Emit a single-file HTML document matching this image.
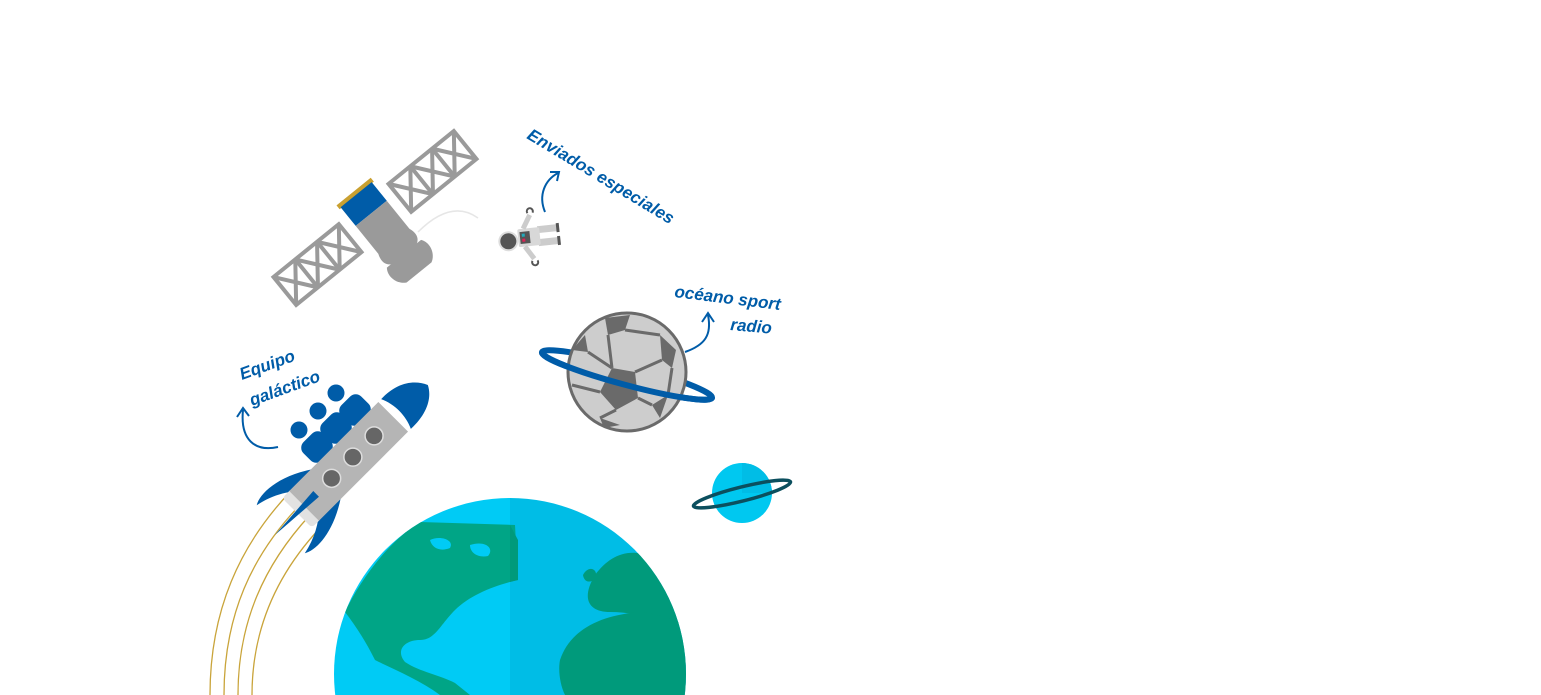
<!DOCTYPE html>
<html><head><meta charset="utf-8"><style>
html,body{margin:0;padding:0;background:#fff;width:1541px;height:695px;overflow:hidden}
text{font-family:"Liberation Sans",sans-serif;fill:#005ca8;font-weight:bold}
</style></head><body>
<svg width="1541" height="695" viewBox="0 0 1541 695" xmlns="http://www.w3.org/2000/svg">
<defs>
<clipPath id="earth"><circle cx="510" cy="674" r="176"/></clipPath>
</defs>

<!-- gold trails -->
<g fill="none" stroke="#c9a43a" stroke-width="1.3">
<path d="M210 695 C210 610 240 545 290 492"/>
<path d="M224 695 C224 615 252 555 300 505"/>
<path d="M238 695 C238 622 264 565 310 515"/>
<path d="M252 695 C252 630 276 575 320 528"/>
</g>

<!-- satellite -->
<path d="M418 232 C440 210 460 205 478 218" fill="none" stroke="#e6e6e6" stroke-width="1.5"/>
<g transform="translate(375,218) rotate(-39)">
 <g fill="none" stroke="#9a9a9a" stroke-width="4">
  <rect x="-116" y="-18" width="84" height="36"/>
  <line x1="-88" y1="-18" x2="-88" y2="18"/><line x1="-60" y1="-18" x2="-60" y2="18"/>
  <path d="M-116 -18 L-88 18 M-88 -18 L-116 18 M-88 -18 L-60 18 M-60 -18 L-88 18 M-60 -18 L-32 18 M-32 -18 L-60 18"/>
  <rect x="32" y="-18" width="84" height="36"/>
  <line x1="60" y1="-18" x2="60" y2="18"/><line x1="88" y1="-18" x2="88" y2="18"/>
  <path d="M32 -18 L60 18 M60 -18 L32 18 M60 -18 L88 18 M88 -18 L60 18 M88 -18 L116 18 M116 -18 L88 18"/>
 </g>
 <rect x="-22" y="-34" width="44" height="5" fill="#c9a030"/>
 <rect x="-20" y="-30" width="40" height="24" fill="#005ca8"/>
 <path d="M-20 -6 H20 V30 C24 40 20 46 12 48 L-12 48 C-20 46 -24 40 -20 30 Z" fill="#9a9a9a"/>
 <path d="M-22 46 H22 C28 54 24 66 16 70 H-16 C-24 66 -28 54 -22 46 Z" fill="#9a9a9a"/>
</g>

<!-- astronaut -->
<g transform="translate(530,237) rotate(-6)">
 <rect x="8" y="-10" width="20" height="7" fill="#ccc"/><rect x="8" y="3" width="20" height="7" fill="#ccc"/>
 <rect x="27" y="-11" width="3" height="9" fill="#555"/><rect x="27" y="2" width="3" height="9" fill="#555"/>
 <rect x="-12" y="-9" width="22" height="18" rx="2" fill="#d8d8d8"/>
 <rect x="-10" y="-6" width="10" height="12" fill="#555"/>
 <rect x="-8" y="-4" width="3" height="3" fill="#2ab"/><rect x="-8" y="1" width="3" height="3" fill="#d25"/>
 <path d="M-6 -9 L2 -22 M-6 9 L2 22" stroke="#ccc" stroke-width="5"/>
 <path d="M0 -24 a3 3 0 1 1 5 0 M0 24 a3 3 0 1 0 5 0" stroke="#555" stroke-width="2" fill="none"/>
 <circle cx="-22" cy="2" r="10" fill="#ddd"/><circle cx="-22" cy="2" r="8" fill="#555"/>
</g>

<!-- Enviados especiales -->
<text transform="translate(526,138) rotate(31)" font-size="17" font-style="italic" textLength="168">Enviados especiales</text>
<path d="M545 212 C538 195 545 180 558 173 M550 172 L559 172 L557 181" fill="none" stroke="#005ca8" stroke-width="2"/>

<!-- rocket -->
<g fill="#005ca8">
 <circle cx="299" cy="430" r="8.5"/><circle cx="318" cy="411" r="8.5"/><circle cx="336" cy="393" r="8.5"/>
 <rect x="303" y="434" width="28" height="26" rx="8" transform="rotate(-45 317 447)"/>
 <rect x="322" y="415" width="28" height="26" rx="8" transform="rotate(-45 336 428)"/>
 <rect x="341" y="397" width="28" height="26" rx="8" transform="rotate(-45 355 410)"/>
</g>
<g transform="translate(355,455) rotate(-45)">
 <path d="M-40 -20 C-70 -40 -95 -40 -105 -34 C-85 -30 -70 -20 -58 -8 Z" fill="#005ca8"/>
 <path d="M-40 20 C-70 40 -95 40 -105 34 C-85 30 -70 20 -58 8 Z" fill="#005ca8"/>
 <rect x="-82" y="-21" width="14" height="42" rx="4" fill="#e2e2e2"/>
 <rect x="-72" y="-21" width="126" height="42" fill="#b5b5b5"/>
 <path d="M-113 0 L-55 -4 L-55 4 Z" fill="#005ca8"/>
 <path d="M58 -21 C80 -22 95 -12 101 2 C95 14 80 22 58 21 C64 8 64 -8 58 -21 Z" fill="#005ca8"/>
 <g fill="#666" stroke="#ddd" stroke-width="1.5">
  <circle cx="27" cy="0" r="9"/><circle cx="-3" cy="0" r="9"/><circle cx="-33" cy="0" r="9"/>
 </g>
</g>
<text transform="translate(242,380) rotate(-20)" font-size="17" font-style="italic">Equipo</text>
<text transform="translate(252,406) rotate(-20)" font-size="17" font-style="italic">galáctico</text>
<path d="M278 447 C255 452 240 440 243 410 M237 417 L243 408 L249 416" fill="none" stroke="#005ca8" stroke-width="2"/>

<!-- soccer ball planet -->
<ellipse cx="627" cy="375" rx="88" ry="10" transform="rotate(15 627 375)" fill="none" stroke="#005ca8" stroke-width="6"/>
<circle cx="627" cy="372" r="59" fill="#cdcdcd" stroke="#6a6a6a" stroke-width="3"/>
<g fill="#6a6a6a">
 <path d="M605 318 L630 315 L625 330 L608 335 Z"/>
 <path d="M660 335 L676 350 L672 368 L662 360 Z"/>
 <path d="M612 368 L635 372 L638 398 L616 410 L600 392 Z"/>
 <path d="M572 350 L585 335 L588 352 Z"/>
 <path d="M652 405 L668 395 L660 418 Z"/>
 <path d="M600 418 L620 425 L604 428 Z"/>
</g>
<g stroke="#6a6a6a" stroke-width="3" fill="none">
 <path d="M608 335 L612 368 M625 330 L660 335 M662 360 L635 372 M638 398 L652 405 M616 410 L600 418 M600 392 L572 385 M588 352 L612 368 M672 368 L668 395"/>
</g>
<g transform="rotate(15 627 375)"><path d="M539 375 A88 10 0 0 0 715 375" fill="none" stroke="#005ca8" stroke-width="6"/></g>
<text transform="translate(674,297) rotate(7)" font-size="17" font-style="italic">océano sport</text>
<text transform="translate(730,330) rotate(5)" font-size="17" font-style="italic">radio</text>
<path d="M685 352 C705 345 712 335 708 315 M702 322 L708 313 L714 322" fill="none" stroke="#005ca8" stroke-width="2"/>

<!-- small planet -->
<circle cx="742" cy="493" r="30" fill="#00c8f0"/>
<path d="M742 463 A30 30 0 0 1 772 493 L742 493 Z" fill="#00bde6"/>
<ellipse cx="742" cy="494" rx="50" ry="7" transform="rotate(-14 742 494)" fill="none" stroke="#0b4f5e" stroke-width="3.5"/>

<!-- earth -->
<g clip-path="url(#earth)">
 <rect x="330" y="495" width="180" height="200" fill="#00cbf5"/>
 <rect x="510" y="495" width="180" height="200" fill="#00bde6"/>
 <path d="M345 612 C360 580 390 540 420 522 L515 525 L518 580 C495 585 470 595 455 610 C440 625 435 640 420 640 C405 640 395 650 405 662 C420 672 440 675 455 683 L470 695 L440 695 C420 680 395 670 375 660 C365 640 355 625 345 612 Z" fill="#00a586"/>
 <path d="M430 540 C440 535 455 540 450 548 C440 552 432 548 430 540 Z M470 545 C485 540 495 548 488 556 C478 558 470 553 470 545 Z" fill="#00cbf5"/>
 <path d="M510 525 L518 540 L518 580 L510 582 Z" fill="#009a7b"/>
 <path d="M595 575 C610 555 630 545 660 560 L690 600 L690 625 C660 620 635 612 610 612 C590 612 580 600 595 575 Z" fill="#009a7b"/>
 <path d="M560 660 C570 630 600 615 640 612 C665 615 690 625 690 630 L690 695 L565 695 C560 685 558 670 560 660 Z" fill="#009a7b"/>
 <path d="M583 575 C588 565 598 568 596 578 C590 584 584 582 583 575 Z" fill="#009a7b"/>
</g>
</svg>
</body></html>
